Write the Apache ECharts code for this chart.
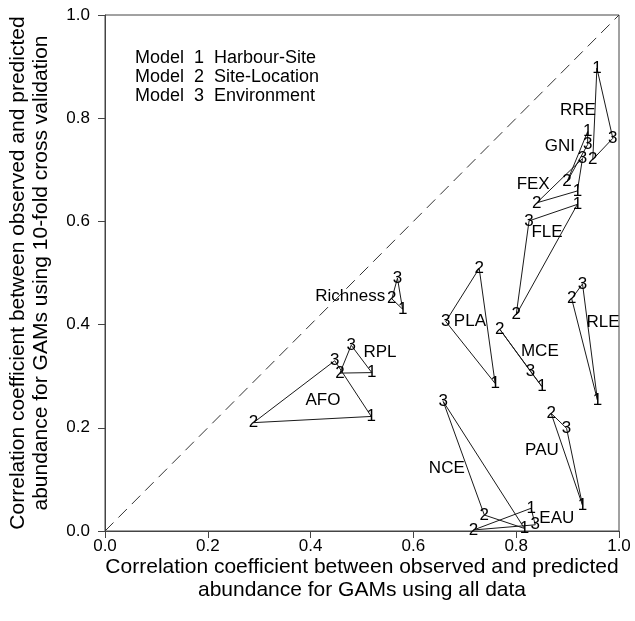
<!DOCTYPE html>
<html>
<head>
<meta charset="utf-8">
<script src="https://cdn.jsdelivr.net/npm/echarts@6/dist/echarts.min.js"></script>
<style>
html,body{margin:0;padding:0;background:#fff;}
#chart{width:635px;height:621px;}
</style>
</head>
<body>
<div id="chart"></div>
<script>
// ---- data ----
const groups = ['RRE','GNI','FEX','FLE','Richness','RPL','AFO','PLA','MCE','RLE','PAU','NCE','EAU'];
// Model 1 (Harbour-Site)
const m1x = [0.957,0.939,0.919,0.919,0.579,0.519,0.518,0.759,0.850,0.958,0.929,0.816,0.829];
const m1y = [0.897,0.774,0.659,0.633,0.430,0.307,0.222,0.286,0.280,0.254,0.050,0.005,0.044];
// Model 2 (Site-Location)
const m2x = [0.949,0.899,0.840,0.800,0.558,0.457,0.289,0.728,0.768,0.908,0.868,0.738,0.717];
const m2y = [0.720,0.677,0.636,0.419,0.450,0.306,0.210,0.509,0.391,0.450,0.228,0.031,0.002];
// Model 3 (Environment)
const m3x = [0.988,0.939,0.929,0.825,0.569,0.479,0.447,0.663,0.828,0.929,0.898,0.658,0.837];
const m3y = [0.761,0.749,0.722,0.601,0.490,0.360,0.330,0.406,0.309,0.479,0.199,0.251,0.012];
// group name annotation anchors (data space)
const nameX = [0.920,0.885,0.833,0.860,0.477,0.535,0.424,0.710,0.846,0.969,0.850,0.665,0.879];
const nameY = [0.816,0.745,0.671,0.579,0.455,0.347,0.254,0.406,0.349,0.404,0.157,0.122,0.025];
const diagonal = [[0,0],[1,1]];
const legendModels = ['1','2','3'];
const legendNames = ['Harbour-Site','Site-Location','Environment'];
const xTitle = 'Correlation coefficient between observed and predicted\nabundance for GAMs using all data';
const yTitle1 = 'Correlation coefficient between observed and predicted';
const yTitle2 = 'abundance for GAMs using 10-fold cross validation';

const FONT = '"Liberation Sans", Arial, Helvetica, sans-serif';
const chart = echarts.init(document.getElementById('chart'), null, {renderer:'canvas'});

const series = [];
series.push({
  type:'line', data: diagonal, symbol:'none', silent:true,
  lineStyle:{color:'#333', width:1, type:[12,7]}, z:1
});
groups.forEach((g,i)=>{
  series.push({
    type:'line', name:g, symbol:'none', silent:true,
    data:[[m1x[i],m1y[i]],[m2x[i],m2y[i]],[m3x[i],m3y[i]],[m1x[i],m1y[i]]],
    lineStyle:{color:'#1a1a1a', width:1}, z:2
  });
});
const numData = [];
groups.forEach((g,i)=>{
  numData.push([m1x[i],m1y[i],'1']);
  numData.push([m2x[i],m2y[i],'2']);
  numData.push([m3x[i],m3y[i],'3']);
});
const tiny = {color:'#000', opacity:1};
const lbl = {show:true, position:'inside', color:'#000', opacity:1, textBorderWidth:0,
             fontSize:17, fontFamily:FONT, formatter:p=>p.value[2]};
series.push({
  type:'scatter', data:numData, symbolSize:0.01, itemStyle:tiny, silent:true, z:5,
  label:lbl
});
series.push({
  type:'scatter', data:groups.map((g,i)=>[nameX[i],nameY[i],g]), symbolSize:0.01,
  itemStyle:tiny, silent:true, z:5, label:lbl
});

const graphics = [];
legendModels.forEach((m,i)=>{
  const y = 58 + i*19;
  graphics.push({type:'text', x:135, y:y, style:{text:'Model  '+m+'  '+legendNames[i], font:'18px '+FONT, fill:'#000', verticalAlign:'middle'}});
});
graphics.push({type:'text', x:362, y:579, style:{text:xTitle, font:'21px '+FONT, fill:'#000',
  align:'center', verticalAlign:'middle', lineHeight:23}});
graphics.push({type:'text', x:18, y:273, rotation:Math.PI/2, style:{text:yTitle1, font:'21px '+FONT, fill:'#000',
  align:'center', verticalAlign:'middle'}});
graphics.push({type:'text', x:41, y:273, rotation:Math.PI/2, style:{text:yTitle2, font:'21px '+FONT, fill:'#000',
  align:'center', verticalAlign:'middle'}});

const axisCommon = {
  type:'value', min:0, max:1, interval:0.2,
  splitLine:{show:false},
  axisLine:{show:true, lineStyle:{color:'#444', width:1}},
  axisTick:{show:true, inside:false, length:7, lineStyle:{color:'#444'}},
};
chart.setOption({
  animation:false,
  backgroundColor:'#fff',
  grid:{left:105, right:16, top:15, bottom:90, show:true, borderColor:'#444', borderWidth:1},
  xAxis:Object.assign({}, axisCommon, {
    axisLabel:{margin:7, fontSize:17, color:'#000', fontFamily:FONT, formatter:v=>v.toFixed(1)}
  }),
  yAxis:Object.assign({}, axisCommon, {
    axisLabel:{margin:15, fontSize:17, color:'#000', fontFamily:FONT, formatter:v=>v.toFixed(1)}
  }),
  series:series,
  graphic:graphics
});
</script>
</body>
</html>
